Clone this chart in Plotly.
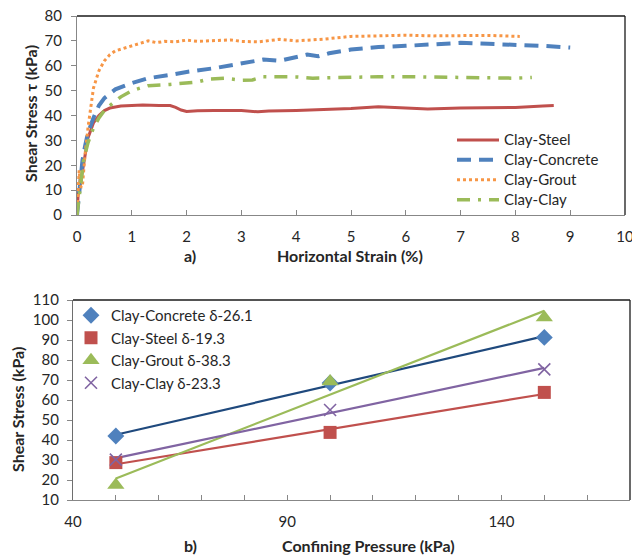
import numpy as np
import plotly.graph_objects as go

# ---------- (a) shear stress vs horizontal strain ----------
steel_x = [0, 0.02, 0.05, 0.08, 0.1, 0.15, 0.2, 0.3, 0.4, 0.5, 0.6, 0.8, 1.0, 1.2, 1.5, 1.7, 1.8, 1.9, 2.0, 2.2, 2.5,
           3.0, 3.3, 3.5, 4.0, 4.5, 5.0, 5.5, 6.0, 6.4, 7.0, 7.5, 8.0, 8.5, 8.7]
steel_y = [0, 8, 11, 15, 19, 26, 31, 37, 40, 42, 43, 43.8, 44, 44.2, 44, 44, 43.3, 42.2, 41.6, 41.9, 42,
           42, 41.5, 41.8, 42, 42.3, 42.8, 43.5, 43, 42.6, 43, 43, 43.2, 43.8, 44]

concrete_x = [0, 0.03, 0.06, 0.1, 0.15, 0.2, 0.3, 0.4, 0.5, 0.7, 1.0, 1.3, 1.7, 2.0, 2.5, 3.0, 3.4, 3.7, 4.0, 4.2,
              4.4, 4.6, 5.0, 5.5, 6.0, 6.5, 7.0, 7.5, 8.0, 8.5, 9.0]
concrete_y = [0, 8, 15, 22, 28, 33, 39, 44, 47, 50.5, 53, 55, 56.3, 57.5, 59, 61, 62.5, 62, 63.5, 64.5,
              63.8, 65, 66.5, 67.5, 68, 68.8, 69.2, 68.8, 68.5, 68, 67.3]

grout_x = [0, 0.02, 0.04, 0.06, 0.08, 0.1, 0.12, 0.15, 0.2, 0.25, 0.3, 0.4, 0.5, 0.6, 0.7, 0.85, 1.0, 1.15, 1.3,
           1.45, 1.6, 1.8, 2.0, 2.2, 2.5, 2.8, 3.0, 3.3, 3.7, 4.0, 4.5, 5.0, 5.5, 6.0, 6.5, 7.0, 7.5, 8.08]
grout_y = [0, 10, 18, 12, 11, 12, 18, 25, 35, 44, 51, 58, 62, 64.5, 66, 67, 68, 69, 70,
           69.3, 69.8, 69.6, 70.3, 69.8, 70.2, 70.4, 69.8, 69.6, 70.6, 70, 70.7, 71.8, 72, 72.3, 72, 72.2, 72.2, 71.8]

clay_x = [0, 0.04, 0.08, 0.12, 0.2, 0.3, 0.4, 0.5, 0.6, 0.8, 1.0, 1.3, 1.7, 2.0, 2.2, 2.4, 2.7, 3.0, 3.2, 3.4,
          3.7, 4.0, 4.3, 4.6, 5.0, 5.5, 6.0, 6.5, 7.0, 7.5, 8.0, 8.3]
clay_y = [0, 8, 16, 22, 29, 35, 39, 42, 44, 47.5, 50, 52, 52.5, 52.9, 53.5, 54.6, 55, 54.2, 54.3, 55.6,
          55.6, 55.5, 55, 55.2, 55.5, 55.6, 55.6, 55.5, 55.4, 55.2, 55, 55.3]

# ---------- (b) shear stress vs confining pressure ----------
pressure = [50, 100, 150]
b_concrete = [42, 68.5, 91.3]
b_steel = [28.7, 43.8, 63.8]
b_grout = [17.5, 69.2, 101.3]
b_clay = [30.2, 55, 75.3]

FONT = "Lato"
TXT = "#262626"
AX = "#878787"

def big(t):
    return '<span style="font-size:15px">%s</span>' % t

fig = go.Figure()

# top chart traces
fig.add_trace(go.Scatter(x=steel_x, y=steel_y, mode="lines", name=big("Clay-Steel"),
                         line=dict(color="#C0504D", width=3), xaxis="x", yaxis="y", legend="legend"))
fig.add_trace(go.Scatter(x=concrete_x, y=concrete_y, mode="lines", name=big("Clay-Concrete"),
                         line=dict(color="#4F81BD", width=4, dash="14px,8px"), xaxis="x", yaxis="y", legend="legend"))
fig.add_trace(go.Scatter(x=grout_x, y=grout_y, mode="lines", name=big("Clay-Grout"),
                         line=dict(color="#F79646", width=3, dash="3px,3px"), xaxis="x", yaxis="y", legend="legend"))
fig.add_trace(go.Scatter(x=clay_x, y=clay_y, mode="lines", name=big("Clay-Clay"),
                         line=dict(color="#9BBB59", width=3.5, dash="13px,8px,3px,8px"), xaxis="x", yaxis="y", legend="legend"))

# bottom chart: trend lines
def trend(y):
    k, b = np.polyfit(pressure, y, 1)
    return [k * p + b for p in pressure]

bottom = [
    ("Clay-Concrete δ-26.1", b_concrete, "#4F81BD", "#1F497D", dict(symbol="diamond", size=13)),
    ("Clay-Steel δ-19.3", b_steel, "#C0504D", "#C0504D", dict(symbol="square", size=13)),
    ("Clay-Grout δ-38.3", b_grout, "#9BBB59", "#9BBB59", dict(symbol="triangle-up", size=15)),
    ("Clay-Clay δ-23.3", b_clay, "#8064A2", "#8064A2", dict(symbol="x-thin", size=12)),
]
for name, ys, mc, lc, mk in bottom:
    fig.add_trace(go.Scatter(x=pressure, y=trend(ys), mode="lines", line=dict(color=lc, width=2.2),
                             showlegend=False, hoverinfo="skip", xaxis="x2", yaxis="y2"))
for name, ys, mc, lc, mk in bottom:
    m = dict(color=mc, **mk)
    if mk["symbol"] == "x-thin":
        m["line"] = dict(color=mc, width=1.6)
    fig.add_trace(go.Scatter(x=pressure, y=ys, mode="markers", name=name, marker=m,
                             xaxis="x2", yaxis="y2", legend="legend2"))

W, H = 632, 559
def px(x):
    return x / W
def py(y):
    return 1 - y / H

tickfont = dict(family=FONT, size=15, color=TXT)
fig.update_layout(
    width=W, height=H, margin=dict(l=0, r=0, t=0, b=0, autoexpand=False),
    paper_bgcolor="white", plot_bgcolor="white",
    font=dict(family=FONT, color=TXT),
    xaxis=dict(domain=[px(77), px(625)], anchor="y", range=[0, 10], dtick=1, tick0=0,
               showline=True, linecolor=AX, linewidth=1.3, ticks="inside", ticklen=5, tickcolor=AX,
               showgrid=False, zeroline=False, tickfont=tickfont, ticklabelstandoff=8,
               ticklabeloverflow="allow", automargin=False),
    yaxis=dict(domain=[py(215), py(16)], anchor="x", range=[0, 80], dtick=10,
               showline=True, linecolor=AX, linewidth=1.3, ticks="outside", ticklen=5, tickcolor=AX,
               showgrid=False, zeroline=False, tickfont=tickfont, ticklabelstandoff=6, automargin=False),
    xaxis2=dict(domain=[px(73), px(630)], anchor="y2", range=[40, 170], tick0=40, dtick=50,
                showline=True, linecolor=AX, linewidth=1.3, ticks="inside", ticklen=5, tickcolor=AX,
                minor=dict(dtick=10, tick0=40, ticks="inside", ticklen=5, tickcolor=AX),
                showgrid=False, zeroline=False, tickfont=tickfont, ticklabelstandoff=8, automargin=False),
    yaxis2=dict(domain=[py(500), py(300)], anchor="x2", range=[10, 110], dtick=10,
                showline=True, linecolor="#6e6e6e", linewidth=1.3, ticks="outside", ticklen=5, tickcolor=AX,
                showgrid=False, zeroline=False, tickfont=tickfont, ticklabelstandoff=5, automargin=False),
    legend=dict(x=px(452), y=py(125), xanchor="left", yanchor="top", bgcolor="rgba(0,0,0,0)",
                font=dict(family=FONT, size=13, color=TXT), tracegroupgap=0, itemwidth=42),
    legend2=dict(x=px(71), y=py(299), xanchor="left", yanchor="top", bgcolor="rgba(0,0,0,0)",
                 font=dict(family=FONT, size=15, color=TXT)),
    showlegend=True,
)

# dark top/right frame lines
for xr, yr in (("x domain", "y domain"), ("x2 domain", "y2 domain")):
    fig.add_shape(type="line", xref=xr, yref=yr, x0=0, x1=1, y0=1, y1=1, line=dict(color="#1a1a1a", width=1.3))
    fig.add_shape(type="line", xref=xr, yref=yr, x0=1, x1=1, y0=0, y1=1, line=dict(color="#1a1a1a", width=1.3))

bold = dict(family=FONT, size=16, color=TXT)
def ann(text, x, y, angle=0):
    fig.add_annotation(text="<b>%s</b>" % text, xref="paper", yref="paper", x=px(x), y=py(y),
                       xanchor="center", yanchor="middle", showarrow=False, textangle=angle, font=bold)

ann("a)", 190, 255)
ann("Horizontal Strain (%)", 350, 255)
ann("Shear Stress τ (kPa)", 30, 114, -90)
ann("b)", 190, 545)
ann("Confining Pressure (kPa)", 368, 545)
ann("Shear Stress (kPa)", 17, 410, -90)

fig.write_html("out.html")
